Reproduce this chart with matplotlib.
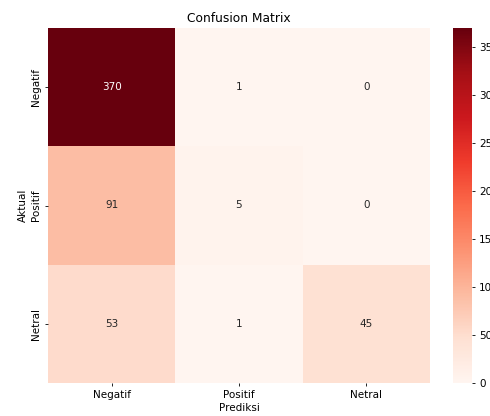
import numpy as np
import matplotlib
matplotlib.use("Agg")
import matplotlib.pyplot as plt
import seaborn as sns

labels = ["Negatif", "Positif", "Netral"]
row_negatif = [370, 1, 0]
row_positif = [91, 5, 0]
row_netral = [53, 1, 45]

cm = np.array([row_negatif, row_positif, row_netral])

fs = 7.5
fig = plt.figure(figsize=(4.9, 4.16), dpi=100)
ax = fig.add_axes([48 / 490, 33 / 416, 382 / 490, 355 / 416])
cax = fig.add_axes([453 / 490, 33 / 416, 19 / 490, 355 / 416])

sns.heatmap(cm, annot=True, fmt="d", cmap="Reds", ax=ax, cbar_ax=cax,
            xticklabels=labels, yticklabels=labels,
            annot_kws={"fontsize": fs})
ax.set_title("Confusion Matrix", fontsize=8.8, pad=4)
ax.set_xlabel("Prediksi", fontsize=fs, labelpad=2)
ax.set_ylabel("Aktual", fontsize=fs, labelpad=2)
ax.tick_params(labelsize=fs, length=2.5, pad=2.5, width=0.6)
plt.setp(ax.get_yticklabels(), rotation=90, va="center")
cax.tick_params(labelsize=fs, length=2.5, pad=2.5, width=0.6)

fig.savefig("out.png", dpi=100)
